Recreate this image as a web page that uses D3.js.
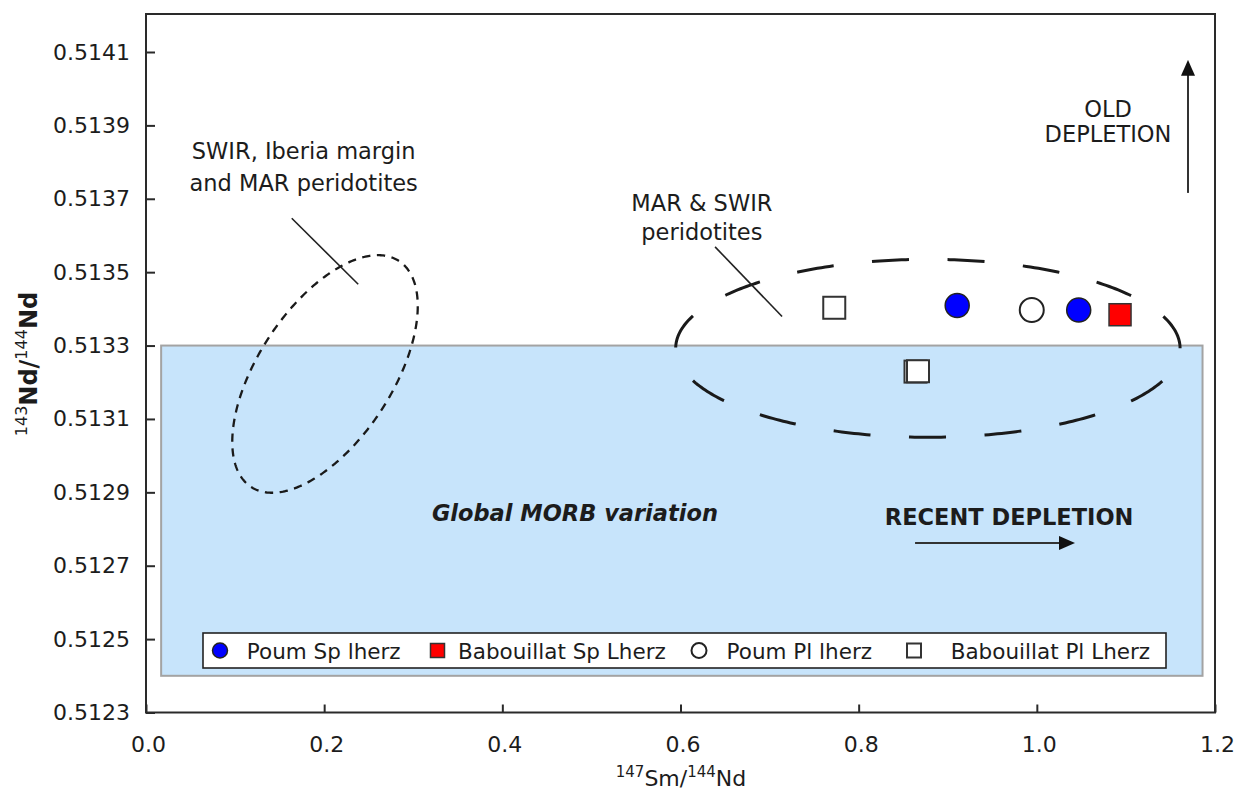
<!DOCTYPE html>
<html>
<head>
<meta charset="utf-8">
<script src="https://cdn.jsdelivr.net/npm/d3@7"></script>
<style>
  body { margin: 0; background: #fff; }
  svg { display: block; }
  text { font-family: "DejaVu Sans", Verdana, sans-serif; fill: #1c1c1c; }
</style>
</head>
<body>
<svg id="chart" width="1245" height="802"></svg>
<script>
// Sm-Nd isotope systematics of Poum and Babouillat lherzolites

// Axis ticks
const xTicks = [0.0, 0.2, 0.4, 0.6, 0.8, 1.0, 1.2];
const yTicks = [0.5123, 0.5125, 0.5127, 0.5129, 0.5131, 0.5133, 0.5135, 0.5137, 0.5139, 0.5141];

// Samples: [147Sm/144Nd, 143Nd/144Nd]
const seriesNames = ["Poum Sp lherz", "Babouillat Sp Lherz", "Poum Pl lherz", "Babouillat Pl Lherz"];
const poumSp = [[0.9106, 0.513409], [1.0470, 0.513397]];
const babouillatSp = [[1.0934, 0.513384]];
const poumPl = [[0.9943, 0.513397]];
const babouillatPl = [[0.7726, 0.513403], [0.8638, 0.513229], [0.8666, 0.513230]];

// Reference fields (data units)
const morbField = { x: [0.017, 1.186], y: [0.5124, 0.5133] };
const marSwirField = { x: [0.5946, 1.1608], y: [0.513050, 0.513535] };
const iberiaField = { major: [[0.1180, 0.5129146], [0.2839, 0.5135305]], aspect: 0.496 };

// Leader lines from field labels to the fields
const leaders = [
  [[0.1636, 0.513647], [0.2382, 0.513467]],
  [[0.6388, 0.513569], [0.7140, 0.513379]]
];

// Depletion trend arrows
const oldDepletionArrow = [[1.1697, 0.513716], [1.1697, 0.514084]];
const recentDepletionArrow = [[0.8633, 0.512762], [1.0451, 0.512762]];

// Text annotations: anchor in data units (baseline of first line)
const annotations = [
  { lines: ["SWIR, Iberia margin", "and MAR peridotites"], at: [0.177, 0.5138071], lead: 32 },
  { lines: ["MAR & SWIR", "peridotites"], at: [0.624, 0.513666], lead: 29 },
  { lines: ["OLD", "DEPLETION"], at: [1.0799, 0.5139229], lead: 25 },
  { lines: ["Global MORB variation"], at: [0.4815, 0.5128226], weight: "bold", italic: true },
  { lines: ["RECENT DEPLETION"], at: [0.9689, 0.5128117], weight: "bold" }
];

const svg = d3.select("#chart");
const plot = { left: 146, right: 1215, top: 14, bottom: 712.5 };

const x = d3.scaleLinear().domain([0, 1.2]).range([plot.left, plot.right]);
const y = d3.scaleLinear().domain([0.5123, 0.5141]).range([plot.bottom, 52]);
const P = d => [x(d[0]), y(d[1])];

// Global MORB box
svg.append("rect")
  .attr("x", x(morbField.x[0]))
  .attr("y", y(morbField.y[1]))
  .attr("width", x(morbField.x[1]) - x(morbField.x[0]))
  .attr("height", y(morbField.y[0]) - y(morbField.y[1]))
  .attr("fill", "#c7e4fb")
  .attr("stroke", "#a3a3a3")
  .attr("stroke-width", 2);

// Ellipse outline in pixel space, centre c, semi-axes a (along u) and b
function ellipsePoints(c, a, b, u) {
  const w = [u[1], -u[0]];
  return d3.range(0, 361).map(i => {
    const t = i / 360 * 2 * Math.PI;
    return [c[0] + a * Math.cos(t) * u[0] + b * Math.sin(t) * w[0],
            c[1] + a * Math.cos(t) * u[1] + b * Math.sin(t) * w[1]];
  });
}
const line = d3.line();

function dashedOutline(pts, n, frac, width) {
  const p = svg.append("path")
    .attr("d", line(pts) + "Z")
    .attr("fill", "none")
    .attr("stroke", "#1a1a1a")
    .attr("stroke-width", width);
  const L = p.node().getTotalLength();
  const period = L / n;
  p.attr("stroke-dasharray", `${period * frac} ${period * (1 - frac)}`);
}

// MAR & SWIR field (axis aligned)
{
  const x0 = x(marSwirField.x[0]), x1 = x(marSwirField.x[1]);
  const y0 = y(marSwirField.y[1]), y1 = y(marSwirField.y[0]);
  dashedOutline(ellipsePoints([(x0 + x1) / 2, (y0 + y1) / 2], (x1 - x0) / 2, (y1 - y0) / 2, [1, 0]), 15, 0.49, 3);
}
// SWIR / Iberia / MAR field (tilted)
{
  const p1 = P(iberiaField.major[0]), p2 = P(iberiaField.major[1]);
  const c = [(p1[0] + p2[0]) / 2, (p1[1] + p2[1]) / 2];
  const dx = p2[0] - p1[0], dy = p2[1] - p1[1];
  const a = Math.hypot(dx, dy) / 2;
  dashedOutline(ellipsePoints(c, a, a * iberiaField.aspect, [dx / (2 * a), dy / (2 * a)]), 44, 0.56, 2.3);
}

// Leader lines
svg.selectAll("line.leader").data(leaders).join("line")
  .attr("class", "leader")
  .attr("x1", d => x(d[0][0])).attr("y1", d => y(d[0][1]))
  .attr("x2", d => x(d[1][0])).attr("y2", d => y(d[1][1]))
  .attr("stroke", "#222").attr("stroke-width", 1.6);

// Frame
svg.append("rect")
  .attr("x", plot.left).attr("y", plot.top)
  .attr("width", plot.right - plot.left).attr("height", plot.bottom - plot.top)
  .attr("fill", "none").attr("stroke", "#2a2a2a").attr("stroke-width", 2);

// Axes with inward ticks
const gy = svg.append("g").attr("transform", `translate(${plot.left},0)`)
  .call(d3.axisLeft(y).tickValues(yTicks).tickSize(-9).tickPadding(16).tickFormat(d3.format(".4f")));
const gx = svg.append("g").attr("transform", `translate(0,${plot.bottom})`)
  .call(d3.axisBottom(x).tickValues(xTicks).tickSize(-8).tickPadding(24).tickFormat(d3.format(".1f")));
[gx, gy].forEach(g => {
  g.select(".domain").remove();
  g.selectAll(".tick line").attr("stroke", "#2a2a2a").attr("stroke-width", 2);
  g.selectAll(".tick text").attr("font-size", 22).attr("font-family", null).attr("fill", "#1c1c1c");
});
gx.selectAll(".tick text").attr("dx", 2);

// Axis titles
const xt = svg.append("text").attr("x", 681).attr("y", 786).attr("text-anchor", "middle").attr("font-size", 22);
xt.append("tspan").attr("font-size", 15).attr("dy", -9).text("147");
xt.append("tspan").attr("dy", 9).text("Sm/");
xt.append("tspan").attr("font-size", 15).attr("dy", -9).text("144");
xt.append("tspan").attr("dy", 9).text("Nd");

const yt = svg.append("text").attr("transform", "translate(37,364) rotate(-90)")
  .attr("text-anchor", "middle").attr("font-size", 24).attr("font-weight", "bold");
yt.append("tspan").attr("font-size", 16).attr("font-weight", "normal").attr("dy", -10).text("143");
yt.append("tspan").attr("dy", 10).text("Nd/");
yt.append("tspan").attr("font-size", 16).attr("font-weight", "normal").attr("dy", -10).text("144");
yt.append("tspan").attr("dy", 10).text("Nd");

// Marker styles per series
const styles = [
  { data: poumSp, shape: "circle", fill: "#0000ff" },
  { data: babouillatSp, shape: "square", fill: "#ff0000" },
  { data: poumPl, shape: "circle", fill: "#ffffff" },
  { data: babouillatPl, shape: "square", fill: "#ffffff" }
];

function drawMarker(g, shape, fill, cx, cy, size) {
  if (shape === "circle") {
    g.append("circle").attr("cx", cx).attr("cy", cy).attr("r", size / 2)
      .attr("fill", fill).attr("stroke", "#222").attr("stroke-width", fill === "#ffffff" ? 2 : 1.5);
  } else {
    g.append("rect").attr("x", cx - size / 2).attr("y", cy - size / 2)
      .attr("width", size).attr("height", size)
      .attr("fill", fill).attr("stroke", "#333").attr("stroke-width", fill === "#ffffff" ? 2 : 1.5);
  }
}

const gPts = svg.append("g");
styles.forEach(s => s.data.forEach(d => drawMarker(gPts, s.shape, s.fill, x(d[0]), y(d[1]), s.shape === "circle" ? 24 : 22)));

// Legend
const legend = { left: 203, right: 1166, top: 633, bottom: 668 };
const legendItemX = [17, 234.5, 496, 711];
const legendTextX = [43.8, 255, 523.6, 747.7];
const gl = svg.append("g");
gl.append("rect").attr("x", legend.left).attr("y", legend.top)
  .attr("width", legend.right - legend.left).attr("height", legend.bottom - legend.top)
  .attr("fill", "#fff").attr("stroke", "#222").attr("stroke-width", 1.6);
styles.forEach((s, i) => {
  drawMarker(gl, s.shape, s.fill, legend.left + legendItemX[i], (legend.top + legend.bottom) / 2, s.shape === "circle" ? 15 : 14);
  gl.append("text").attr("x", legend.left + legendTextX[i]).attr("y", legend.bottom - 9)
    .attr("font-size", 21.5).text(seriesNames[i]);
});

// Text annotations
annotations.forEach(a => {
  const t = svg.append("text").attr("text-anchor", "middle").attr("font-size", 22.5)
    .attr("font-weight", a.weight || "normal").attr("font-style", a.italic ? "italic" : "normal");
  a.lines.forEach((l, i) => {
    t.append("tspan").attr("x", x(a.at[0])).attr("y", y(a.at[1]) + i * (a.lead || 0)).text(l);
  });
});

// Arrows
const defs = svg.append("defs");
defs.append("marker").attr("id", "head").attr("viewBox", "0 0 16 14")
  .attr("refX", 2).attr("refY", 7).attr("markerWidth", 16).attr("markerHeight", 14)
  .attr("markerUnits", "userSpaceOnUse").attr("orient", "auto")
  .append("path").attr("d", "M0,0 L16,7 L0,14 Z").attr("fill", "#111");

[oldDepletionArrow, recentDepletionArrow].forEach(arr => {
  const a = P(arr[0]), b = P(arr[1]);
  const len = Math.hypot(b[0] - a[0], b[1] - a[1]);
  const k = (len - 16) / len;
  svg.append("line")
    .attr("x1", a[0]).attr("y1", a[1])
    .attr("x2", a[0] + (b[0] - a[0]) * k).attr("y2", a[1] + (b[1] - a[1]) * k)
    .attr("stroke", "#333").attr("stroke-width", 2)
    .attr("marker-end", "url(#head)");
});
</script>
</body>
</html>
